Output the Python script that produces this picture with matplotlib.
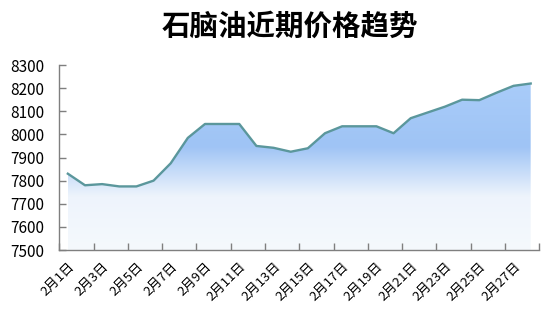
import numpy as np
import matplotlib
matplotlib.use('Agg')
import matplotlib.pyplot as plt
from matplotlib.colors import LinearSegmentedColormap

plt.rcParams['font.family'] = ['Noto Sans CJK SC', 'DejaVu Sans']

# 2月每日价格
days = ['2月%d日' % d for d in range(1, 29)]
prices = [7830, 7780, 7785, 7775, 7775, 7800, 7875, 7985, 8045, 8045,
          8045, 7950, 7942, 7925, 7940, 8005, 8035, 8035, 8035, 8005,
          8070, 8095, 8120, 8150, 8148, 8180, 8210, 8220]
yticks = [7500, 7600, 7700, 7800, 7900, 8000, 8100, 8200, 8300]

fig = plt.figure(figsize=(5.54, 3.15), dpi=100)
ax = fig.add_axes([0.107, 0.2063, 0.8664, 0.5873])

x = np.arange(len(prices))
ymin = yticks[0]

# 渐变填充
cmap = LinearSegmentedColormap.from_list('grad', [
    (0.0, '#a9ccf9'), (0.38, '#9fc4f5'), (0.68, '#eef4fc'), (1.0, '#f5f9fd')])
grad = np.linspace(0, 1, 256).reshape(-1, 1)
im = ax.imshow(grad, cmap=cmap, aspect='auto', origin='upper',
               extent=[x[0], x[-1], ymin, max(prices)], zorder=1)
poly = ax.fill_between(x, prices, ymin, color='none', lw=0)
clip = poly.get_paths()[0]
im.set_clip_path(clip, transform=ax.transData)

ax.plot(x, prices, color='#5b979c', lw=1.7, zorder=3)

ax.set_xlim(-0.5, len(prices) - 0.5)
ax.set_ylim(ymin, yticks[-1])
ax.set_yticks(yticks)
ax.set_yticklabels([str(v) for v in yticks], fontsize=11)

ax.set_xticks(np.arange(-0.5, len(prices), 2))
ax.set_xticklabels([])
ax.set_xticks(x[::2], minor=True)
ax.set_xticklabels(days[::2], minor=True, rotation=45, ha='right',
                   rotation_mode='anchor', fontsize=9.5)
ax.tick_params(axis='x', which='minor', length=0, pad=7)
ax.tick_params(axis='both', which='major', direction='in', length=5,
               color='#7f7f7f', width=1)
ax.tick_params(axis='y', pad=11, colors='#7f7f7f', labelcolor='black')

for s in ['top', 'right']:
    ax.spines[s].set_visible(False)
for s in ['left', 'bottom']:
    ax.spines[s].set_color('#7f7f7f')
    ax.spines[s].set_linewidth(1)

fig.text(0.523, 0.915, '石脑油近期价格趋势', ha='center', va='center',
         fontsize=20.5, fontweight='bold')

plt.savefig('out.png', dpi=100)
